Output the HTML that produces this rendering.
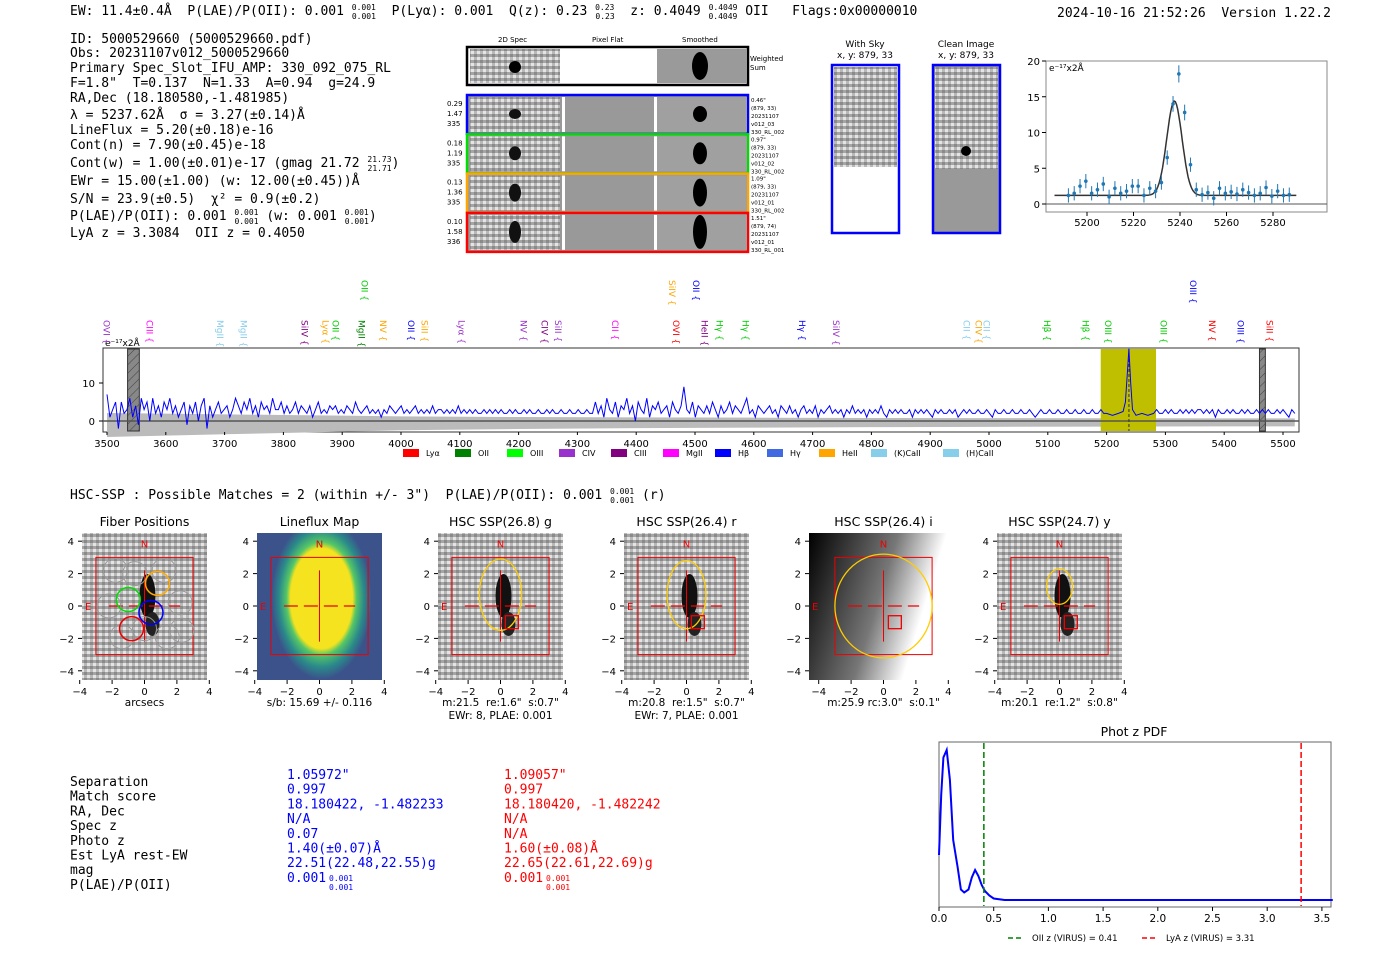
<!DOCTYPE html>
<html><head><meta charset="utf-8"><style>
body{margin:0;background:#fff;width:1400px;height:953px;overflow:hidden}
svg text{font-family:"DejaVu Sans","Liberation Sans",sans-serif;white-space:pre}
.m{font-family:"DejaVu Sans Mono","Liberation Mono",monospace}
</style></head><body>
<svg id="pg" width="1400" height="953" xmlns="http://www.w3.org/2000/svg" xml:space="preserve">
<defs>
<pattern id="noise" width="6" height="6" patternUnits="userSpaceOnUse"><rect width="6" height="6" fill="#b8b8b8"/><rect width="3" height="3" fill="#8a8a8a"/><rect x="3" y="3" width="3" height="3" fill="#e4e4e4"/><rect x="3" width="3" height="3" fill="#a5a5a5"/></pattern>
<pattern id="hatch" width="6" height="6" patternUnits="userSpaceOnUse" patternTransform="rotate(45)"><rect width="6" height="6" fill="#888"/><line x1="0" y1="0" x2="0" y2="6" stroke="#444"/></pattern>
<linearGradient id="igrad" x1="0" y1="0" x2="1" y2="0.3"><stop offset="0" stop-color="#000"/><stop offset="0.55" stop-color="#777"/><stop offset="0.85" stop-color="#fff"/></linearGradient>
<radialGradient id="lf" cx="0.52" cy="0.45" r="0.5" gradientTransform="translate(0.1,-0.05) scale(0.8,1.1)"><stop offset="0.62" stop-color="#f5e31f"/><stop offset="0.7" stop-color="#55c667"/><stop offset="0.85" stop-color="#2a8a8a"/><stop offset="1" stop-color="#3b528b"/></radialGradient>
</defs>

<g class="m" font-size="13">
<text x="70" y="15" class="m">EW: 11.4±0.4Å  P(LAE)/P(OII): 0.001 <tspan font-size="8" dy="-5">0.001</tspan><tspan font-size="8" dx="-24" dy="9">0.001</tspan><tspan dy="-4">  P(Lyα): 0.001  Q(z): 0.23 </tspan><tspan font-size="8" dy="-5">0.23</tspan><tspan font-size="8" dx="-19" dy="9">0.23</tspan><tspan dy="-4">  z: 0.4049 </tspan><tspan font-size="8" dy="-5">0.4049</tspan><tspan font-size="8" dx="-29" dy="9">0.4049</tspan><tspan dy="-4"> OII   Flags:0x00000010</tspan></text>
<text x="1057" y="17" class="m">2024-10-16 21:52:26  Version 1.22.2</text>
</g>

<g class="m" font-size="13">
<text x="70" y="43" class="m">ID: 5000529660 (5000529660.pdf)</text>
<text x="70" y="57" class="m">Obs: 20231107v012_5000529660</text>
<text x="70" y="72" class="m">Primary Spec_Slot_IFU_AMP: 330_092_075_RL</text>
<text x="70" y="87" class="m">F=1.8"  T=0.137  N=1.33  A=0.94  g=24.9</text>
<text x="70" y="102" class="m">RA,Dec (18.180580,-1.481985)</text>
<text x="70" y="119" class="m">λ = 5237.62Å  σ = 3.27(±0.14)Å</text>
<text x="70" y="134" class="m">LineFlux = 5.20(±0.18)e-16</text>
<text x="70" y="149" class="m">Cont(n) = 7.90(±0.45)e-18</text>
<text x="70" y="167" class="m">Cont(w) = 1.00(±0.01)e-17 (gmag 21.72 <tspan font-size="8" dy="-5">21.73</tspan><tspan font-size="8" dx="-24" dy="9">21.71</tspan><tspan dy="-4">)</tspan></text>
<text x="70" y="185" class="m">EWr = 15.00(±1.00) (w: 12.00(±0.45))Å</text>
<text x="70" y="203" class="m">S/N = 23.9(±0.5)  χ² = 0.9(±0.2)</text>
<text x="70" y="220" class="m">P(LAE)/P(OII): 0.001 <tspan font-size="8" dy="-5">0.001</tspan><tspan font-size="8" dx="-24" dy="9">0.001</tspan><tspan dy="-4"> (w: 0.001 </tspan><tspan font-size="8" dy="-5">0.001</tspan><tspan font-size="8" dx="-24" dy="9">0.001</tspan><tspan dy="-4">)</tspan></text>
<text x="70" y="237" class="m">LyA z = 3.3084  OII z = 0.4050</text>
</g>

<g font-size="7">
<text x="498" y="42">2D Spec</text>
<text x="592" y="42">Pixel Flat</text>
<text x="682" y="42">Smoothed</text>
<rect x="467" y="47" width="281" height="38" fill="#fff" stroke="#000" stroke-width="2.5"/>
<rect x="470" y="49" width="90" height="34" fill="url(#noise)"/>
<rect x="657" y="49" width="90" height="34" fill="#9a9a9a"/>
<circle cx="515" cy="67" r="6" fill="#000"/><ellipse cx="700" cy="66" rx="8" ry="14" fill="#000"/>
<text x="750" y="61">Weighted</text><text x="750" y="70">Sum</text>
<g id="rows"></g>
</g>

<g font-size="9">
<text x="865" y="47" text-anchor="middle">With Sky</text><text x="865" y="58" text-anchor="middle">x, y: 879, 33</text>
<rect x="832" y="65" width="67" height="168" fill="#fff" stroke="#00f" stroke-width="2.5"/>
<rect x="834" y="67" width="63" height="100" fill="url(#noise)"/>
<text x="966" y="47" text-anchor="middle">Clean Image</text><text x="966" y="58" text-anchor="middle">x, y: 879, 33</text>
<rect x="933" y="65" width="67" height="168" fill="#999" stroke="#00f" stroke-width="2.5"/>
<rect x="935" y="67" width="63" height="102" fill="url(#noise)"/>
<circle cx="966" cy="151" r="5" fill="#000"/>
</g>

<g id="zoomplot"></g>
<g id="spec"></g>

<text x="70" y="499" class="m" font-size="13">HSC-SSP : Possible Matches = 2 (within +/- 3")  P(LAE)/P(OII): 0.001 <tspan font-size="8" dy="-5">0.001</tspan><tspan font-size="8" dx="-24" dy="9">0.001</tspan><tspan dy="-4"> (r)</tspan></text>

<g id="thumbs"></g>

<g class="m" font-size="13">
<g id="tbl"></g>
</g>

<g id="pdf"></g>
</svg>
<script>
const NS="http://www.w3.org/2000/svg";
function mk(p,t,a,txt){const e=document.createElementNS(NS,t);for(const k in a)e.setAttribute(k,a[k]);if(txt!==undefined)e.textContent=txt;p.appendChild(e);return e;}

const rowColors=["#0000ff","#00dd00","#ffa500","#ff0000"];
const rowLeft=[["0.29","1.47","335"],["0.18","1.19","335"],["0.13","1.36","335"],["0.10","1.58","336"]];
const rowRight=[["0.46\"","(879, 33)","20231107","v012_03","330_RL_002"],["0.97\"","(879, 33)","20231107","v012_02","330_RL_002"],["1.09\"","(879, 33)","20231107","v012_01","330_RL_002"],["1.51\"","(879, 74)","20231107","v012_01","330_RL_001"]];
(function(){const g=document.getElementById('rows');
for(let i=0;i<4;i++){const y=95+i*39.3;
 const r=mk(g,'rect',{x:467,y:y,width:281,height:39,fill:'#999',stroke:rowColors[i],'stroke-width':2.5});
 
 
 mk(g,'rect',{x:470,y:y+2,width:90,height:35,fill:'url(#noise)'});
 mk(g,'rect',{x:562,y:y+2,width:3,height:35,fill:'#fff'});
 mk(g,'rect',{x:654,y:y+2,width:3,height:35,fill:'#fff'});
 mk(g,'rect',{x:657,y:y+2,width:90,height:35,fill:'#a0a0a0'});
 mk(g,'ellipse',{cx:515,cy:y+19,rx:6,ry:5+i*2,fill:'#111'});
 mk(g,'ellipse',{cx:700,cy:y+19,rx:7,ry:8+i*3,fill:'#000'});
 rowLeft[i].forEach((s,j)=>mk(g,'text',{x:447,y:y+11+j*10,'font-size':7},s));
 rowRight[i].forEach((s,j)=>mk(g,'text',{x:751,y:y+7+j*8,'font-size':5.5},s));
}})();

const zWave=[5192,5194.5,5197,5199.5,5202,5204.5,5207,5209.5,5212,5214.5,5217,5219.5,5222,5224.5,5227,5229.5,5232,5234.5,5237,5239.5,5242,5244.5,5247,5249.5,5252,5254.5,5257,5259.5,5262,5264.5,5267,5269.5,5272,5274.5,5277,5279.5,5282,5284.5,5287];
const zFlux=[1.2,1.5,2.5,3.2,1.5,2,2.8,1,2.2,1.5,1.8,2.5,2.5,1.2,2.2,1.8,3,6.5,14,18.2,12.8,5.5,2,1.3,1.6,0.8,2.2,1.5,1.7,1.4,2,1.6,1.2,1.5,2.3,1.1,1.8,1.2,1.3];
const zErr=[1,1,1,1,1,1,1,1,1,1,1,1,1,1,1,1,1,1,1.1,1.2,1.1,1,1,1,1,1,1,1,1,1,1,1,1,1,1,1,1,1,1];
const fitMu=5237.6, fitSig=3.27, fitAmp=13.2, fitCont=1.2;
const zTicks=[5200,5220,5240,5260,5280], zYT=[0,5,10,15,20];
(function(){const g=document.getElementById('zoomplot');
 const X=w=>1087+(w-5200)*2.325, Y=v=>204-v*7.15;
 mk(g,'rect',{x:1046,y:61,width:281,height:151,fill:'#fff',stroke:'#888'});
 mk(g,'line',{x1:1046,x2:1327,y1:Y(0),y2:Y(0),stroke:'#555'});
 zTicks.forEach(t=>{mk(g,'line',{x1:X(t),x2:X(t),y1:212,y2:216,stroke:'#000'});mk(g,'text',{x:X(t),y:226,'font-size':10,'text-anchor':'middle'},t);});
 zYT.forEach(t=>{mk(g,'line',{x1:1042,x2:1046,y1:Y(t),y2:Y(t),stroke:'#000'});mk(g,'text',{x:1040,y:Y(t)+4,'font-size':10,'text-anchor':'end'},t);});
 mk(g,'text',{x:1049,y:71,'font-size':9},'e⁻¹⁷x2Å');
 let d='';for(let w=5186;w<=5290;w+=0.5){const v=fitCont+fitAmp*Math.exp(-0.5*((w-fitMu)/fitSig)**2);d+=(d?'L':'M')+X(w).toFixed(1)+','+Y(v).toFixed(1);}
 const fl=mk(g,'path',{d:d,fill:'none',stroke:'#333','stroke-width':1.5});
 
 
 zWave.forEach((w,i)=>{mk(g,'line',{x1:X(w),x2:X(w),y1:Y(zFlux[i]-zErr[i]),y2:Y(zFlux[i]+zErr[i]),stroke:'#1f77b4'});
  const c=mk(g,'circle',{cx:X(w),cy:Y(zFlux[i]),r:1.8,fill:'#1f77b4'});
  
  });
})();

const specFluxA=[7,1,3,5,-2,5,2,3,6,1,4,-1,6,3,5,0,6,2,4,1,5,3,6,2,4,1,3,5,-1,4,2,5,0,4,6,-2,4,1,3,5,2,3,4,1,3,6,4,2,5,3,6,2,4,1,5,3,4,2,6,3,3,5,2,4,2,3,5,2,4,3,2,4,1,3,5,2,3,2,4,3,4,2,3,2,4,3,2,5,3,2,3,4,2,3,2,3,1,3,2,4,3,2,3,4,2,3,2,3,4,2,3,2,3,2,4,2,3,3,2,3,2,3,2,4,2,3,2,3,2,3,2,2,3,2,3,2,3,2,3,2,2,3,2,3,2,2,3,2,3,2,2,3,2,2,3,2,3,2,2,3,2,2,3,2,2,3,2,2,3,2,2,
5,2,4,1,6,3,2,5,1,4,3,6,2,4,0,5,3,2,6,1,4,3,5,2,3,4,1,5,3,2,4,9,3,2,5,1,4,3,2,4,2,5,3,1,4,2,3,5,2,4,3,2,4,6,2,3,1,4,3,2,3,4,2,3,1,4,3,2,4,2,3,1,3,4,2,3,2,4,1,3,2,3,4,2,3,2,3,1,3,2,4,2,3,2,3,1,3,2,3,2,4,2,1,3,2,3,2,3,2,2,3,1,3,2,3,2,3,2,1,3,2,3,2,2,3,2,3,1,2,3,2,3,2,2,3,2,2,3,2,1,3,2,2,3,2,2,3,2,2,3,2,2,3,2,1,2,3,2,2,3,2,2,3,2,2,3,2,2,3,2,2,3,2,2,3,2,2,3,2,2];
const specStartA=3500, specEndA=5200;
const specWaveA=specFluxA.map((_,i)=>specStartA+i*(specEndA-specStartA)/(specFluxA.length-1));
const specPeakWave=[5210,5220,5228,5232,5235,5238,5241,5244,5250,5260,5270];
const specPeakFlux=[1.5,2,2.5,5,12,19,10,3,1.5,2,1.5];
const specFluxB=[2,3,2,2,3,2,3,2,2,3,2,3,2,3,2,3,3,2,3,2,3,1,3,2,2,3,2,3,2,2,3,2,3,2,2,3,2,3,2,3,2,2,3,2,3,2,1,3,2];
const specStartB=5280, specEndB=5520;
const specWaveB=specFluxB.map((_,i)=>specStartB+i*(specEndB-specStartB)/(specFluxB.length-1));
const errWave=[3500,3600,3700,3800,3900,4000,4200,4400,4600,4800,5000,5200,5400,5520];
const errVal=[6,5.5,5,4.5,4,3.5,3,2.7,2.5,2.3,2.2,2.1,2,2];
const specTicks=[3500,3600,3700,3800,3900,4000,4100,4200,4300,4400,4500,4600,4700,4800,4900,5000,5100,5200,5300,5400,5500];
const specYT=[0,10];
const lineWaves=[3499,3572,3692,3732,3836,3872,3889,3933,3969,4017,4040,4103,4208,4244,4267,4364,4468,4516,4542,4586,4682,4740,4962,4982,4996,5099,5164,5202,5297,5379,5428,5477];
const lineNames=["OVI","CIII","MgII","MgII","SiIV","Lyα","OII","MgII","NV","OII","SiII","Lyα","NV","CIV","SiII","CII","OVI","HeII","Hγ","Hγ","Hγ","SiIV","CII","CIV","CII","Hβ","Hβ","OIII","OIII","NV","OIII","SiII"];
const lineCols=["#9932cc","#ff00ff","#87ceeb","#87ceeb","#800080","#ffa500","#00cc00","#008000","#ffa500","#0000ff","#ffa500","#9932cc","#9932cc","#800080","#9932cc","#ff00ff","#ff0000","#800080","#00cc00","#00cc00","#0000ff","#9932cc","#87ceeb","#ffa500","#87ceeb","#00cc00","#00cc00","#00cc00","#00cc00","#ff0000","#0000ff","#ff0000"];
const upWaves=[3938,4461,4502,5347], upNames=["OII","SiIV","OII","OIII"], upCols=["#00cc00","#ffa500","#0000ff","#0000ff"];
const legNames=["Lyα","OII","OIII","CIV","CIII","MgII","Hβ","Hγ","HeII","(K)CaII","(H)CaII"];
const legCols=["#ff0000","#008000","#00ff00","#9932cc","#800080","#ff00ff","#0000ff","#4169e1","#ffa500","#87ceeb","#87ceeb"];
(function(){const g=document.getElementById('spec');
 const X=w=>107+(w-3500)*0.588, Y=v=>421-v*3.8;
 mk(g,'rect',{x:103,y:348,width:1196,height:84,fill:'#fff',stroke:'#333'});
 let up='';errWave.forEach((w,i)=>{up+=(i?'L':'M')+X(w)+','+Y(errVal[i]*0.35);});
 for(let i=errWave.length-1;i>=0;i--)up+='L'+X(errWave[i])+','+Y(-errVal[i]*0.7);
 mk(g,'path',{d:up+'Z',fill:'#bbb'});
 mk(g,'rect',{x:X(5190),y:349,width:X(5284)-X(5190),height:82,fill:'#bfbf00'});
 mk(g,'rect',{x:X(3535),y:349,width:X(3555)-X(3535),height:82,fill:'url(#hatch)',stroke:'#333'});
 mk(g,'rect',{x:X(5460),y:349,width:X(5470)-X(5460),height:82,fill:'url(#hatch)',stroke:'#333'});
 mk(g,'line',{x1:103,x2:1299,y1:Y(0),y2:Y(0),stroke:'#555','stroke-width':1.5});
 mk(g,'line',{x1:X(5238),x2:X(5238),y1:349,y2:431,stroke:'#333','stroke-dasharray':'3,2'});
 const ws=[...specWaveA,...specPeakWave,...specWaveB],fs=[...specFluxA,...specPeakFlux,...specFluxB];
 let d='';ws.forEach((w,i)=>{d+=(i?'L':'M')+X(w).toFixed(1)+','+Y(fs[i]).toFixed(1);});
 const p=mk(g,'path',{d:d,fill:'none',stroke:'#0000ff','stroke-width':1});
 
 
 specTicks.forEach(t=>{mk(g,'line',{x1:X(t),x2:X(t),y1:432,y2:435,stroke:'#000'});mk(g,'text',{x:X(t),y:447,'font-size':10,'text-anchor':'middle'},t);});
 specYT.forEach(t=>{mk(g,'line',{x1:99,x2:103,y1:Y(t),y2:Y(t),stroke:'#000'});mk(g,'text',{x:95,y:Y(t)+4,'font-size':10,'text-anchor':'end'},t);});
 mk(g,'text',{x:105,y:346,'font-size':9},'e⁻¹⁷x2Å');
 lineWaves.forEach((w,i)=>{const t=mk(g,'text',{x:0,y:0,'font-size':9,fill:lineCols[i],transform:`translate(${X(w)-3},320) rotate(90)`},lineNames[i]+' {');
  
  });
 upWaves.forEach((w,i)=>{const t=mk(g,'text',{x:0,y:0,'font-size':9,fill:upCols[i],transform:`translate(${X(w)-3},280) rotate(90)`},upNames[i]+' {');
  
  });
 let lx=403;legNames.forEach((n,i)=>{const r=mk(g,'rect',{x:lx,y:449,width:16,height:8,fill:legCols[i]});
  
  
  mk(g,'text',{x:lx+23,y:456,'font-size':8},n);lx+=n.length>5?72:52;});
})();

const thTitles=["Fiber Positions","Lineflux Map","HSC SSP(26.8) g","HSC SSP(26.4) r","HSC SSP(26.4) i","HSC SSP(24.7) y"];
const thLeft=[82,257,438,624,809,997];
const thCap1=["arcsecs","s/b: 15.69 +/- 0.116","m:21.5  re:1.6\"  s:0.7\"","m:20.8  re:1.5\"  s:0.7\"","m:25.9 rc:3.0\"  s:0.1\"","m:20.1  re:1.2\"  s:0.8\""];
const thCap2=["","","EWr: 8, PLAE: 0.001","EWr: 7, PLAE: 0.001","",""];
const thTicks=[-4,-2,0,2,4];
(function(){const g=document.getElementById('thumbs');
 thLeft.forEach((L,i)=>{const W=i==4?149:125,cx=L+W/2,S=16.2,cy=606;
  mk(g,'text',{x:cx,y:526,'font-size':12.5,'text-anchor':'middle'},thTitles[i]);
  const fill=i==1?'url(#lf)':i==4?'url(#igrad)':'url(#noise)';
  const r=mk(g,'rect',{x:L,y:533,width:W,height:147,fill:fill});
  
  
  if(i!=1&&i!=4){mk(g,'ellipse',{cx:cx+3,cy:cy-10,rx:8,ry:22,fill:'#111'});mk(g,'ellipse',{cx:cx+8,cy:cy+18,rx:7,ry:12,fill:'#222'});}
  mk(g,'rect',{x:cx-3*S,y:cy-3*S,width:6*S,height:6*S,fill:'none',stroke:'#e00','stroke-width':1});
  mk(g,'line',{x1:cx-2.2*S,x2:cx+2.2*S,y1:cy,y2:cy,stroke:'#e00','stroke-width':1.2,'stroke-dasharray':'14,6'});
  mk(g,'line',{x1:cx,x2:cx,y1:cy-2.2*S,y2:cy+2.2*S,stroke:'#e00','stroke-width':1});
  mk(g,'text',{x:cx,y:cy-3.6*S,'font-size':10,fill:'#e00','text-anchor':'middle'},'N');
  mk(g,'text',{x:L+3,y:cy+4,'font-size':10,fill:'#e00'},'E');
  if(i==0){[[0,-1.4,'#999'],[-1.4,-1.9,'#999'],[1.4,-1.9,'#999'],[-2.2,0,'#999'],[2.2,0.2,'#999'],[-0.6,2,'#999'],[1.2,2.2,'#999'],[-1.8,2.2,'#999'],[2.3,-1.5,'#999'],[0.8,1.4,'#fa0'],[-1,0.4,'#0d0'],[0.4,-0.4,'#00f'],[-0.8,-1.4,'#e00']].forEach(c=>mk(g,'circle',{cx:cx+c[0]*S,cy:cy-c[1]*S,r:12,fill:'none',stroke:c[2],'stroke-width':c[2]=='#999'?1:1.5}));}
  if(i>=2){const ry=[0,0,2.2,2.1,3.2,1.1][i],rx=[0,0,1.3,1.2,3,0.8][i],oy=[0,0,0.7,0.7,0,1.2][i];
   mk(g,'ellipse',{cx:cx,cy:cy-oy*S,rx:rx*S,ry:ry*S,fill:'none',stroke:'#fc0','stroke-width':1.3});
   mk(g,'rect',{x:cx+0.3*S,y:cy+0.6*S,width:0.8*S,height:0.8*S,fill:'none',stroke:'#e00','stroke-width':1.3});}
  thTicks.forEach(t=>{const tx=cx+t*S,ty=cy-t*S,lb=t==0?'0':(t<0?'−'+(-t):String(t));
   mk(g,'line',{x1:tx,x2:tx,y1:680,y2:684,stroke:'#000'});mk(g,'text',{x:tx,y:695,'font-size':10,'text-anchor':'middle'},lb);
   mk(g,'line',{x1:L-4,x2:L,y1:ty,y2:ty,stroke:'#000'});mk(g,'text',{x:L-8,y:ty+4,'font-size':10,'text-anchor':'end'},lb);});
  mk(g,'text',{x:cx,y:706,'font-size':10.5,'text-anchor':'middle'},thCap1[i]);
  if(thCap2[i])mk(g,'text',{x:cx,y:719,'font-size':10.5,'text-anchor':'middle'},thCap2[i]);
 });
})();

const tLabels=["Separation","Match score","RA, Dec","Spec z","Photo z","Est LyA rest-EW","mag","P(LAE)/P(OII)"];
const tBlue=["1.05972\"","0.997","18.180422, -1.482233","N/A","0.07","1.40(±0.07)Å","22.51(22.48,22.55)g","0.001"];
const tRed=["1.09057\"","0.997","18.180420, -1.482242","N/A","N/A","1.60(±0.08)Å","22.65(22.61,22.69)g","0.001"];
(function(){const g=document.getElementById('tbl');
 tLabels.forEach((l,i)=>{const y=786+i*14.7;
  mk(g,'text',{x:70,y:y,class:'m'},l);
  mk(g,'text',{x:287,y:y-7,class:'m',fill:'#0000ff'},tBlue[i]);
  mk(g,'text',{x:504,y:y-7,class:'m',fill:'#ff0000'},tRed[i]);});
 [[287,'#0000ff'],[504,'#ff0000']].forEach(([x,c])=>{mk(g,'text',{x:x+42,y:881,'font-size':8,fill:c,class:'m'},'0.001');mk(g,'text',{x:x+42,y:890,'font-size':8,fill:c,class:'m'},'0.001');});
})();

const pdfZ=[0,0.02,0.04,0.07,0.1,0.13,0.17,0.2,0.23,0.27,0.3,0.33,0.36,0.39,0.42,0.46,0.5,0.6,0.8,1.5,2.5,3.6];
const pdfP=[0.3,0.7,0.95,1.0,0.8,0.4,0.22,0.07,0.05,0.07,0.15,0.2,0.16,0.1,0.06,0.03,0.01,0.0,0.0,0.0,0.0,0.0];
const pdfTicks=["0.0","0.5","1.0","1.5","2.0","2.5","3.0","3.5"];
const zOII=0.41, zLyA=3.31;
(function(){const g=document.getElementById('pdf');
 const X=z=>939+z*109.4, Y=p=>900-p*150;
 mk(g,'text',{x:1134,y:736,'font-size':12.5,'text-anchor':'middle'},'Phot z PDF');
 mk(g,'rect',{x:939,y:742,width:392,height:165,fill:'#fff',stroke:'#666'});
 let d='';pdfZ.forEach((z,i)=>{d+=(i?'L':'M')+X(z).toFixed(1)+','+Y(pdfP[i]).toFixed(1);});
 const p=mk(g,'path',{d:d,fill:'none',stroke:'#0000ff','stroke-width':2});
 
 
 mk(g,'line',{x1:X(zOII),x2:X(zOII),y1:743,y2:906,stroke:'#008000','stroke-width':1.5,'stroke-dasharray':'6,3'});
 mk(g,'line',{x1:X(zLyA),x2:X(zLyA),y1:743,y2:906,stroke:'#ff0000','stroke-width':1.5,'stroke-dasharray':'6,3'});
 pdfTicks.forEach(t=>{const x=X(+t);mk(g,'line',{x1:x,x2:x,y1:907,y2:911,stroke:'#000'});mk(g,'text',{x:x,y:922,'font-size':10.5,'text-anchor':'middle'},t);});
 mk(g,'line',{x1:1008,x2:1024,y1:938,y2:938,stroke:'#008000','stroke-width':1.5,'stroke-dasharray':'5,3'});
 mk(g,'text',{x:1032,y:941,'font-size':8.5},'OII z (VIRUS) = '+zOII);
 mk(g,'line',{x1:1142,x2:1158,y1:938,y2:938,stroke:'#ff0000','stroke-width':1.5,'stroke-dasharray':'5,3'});
 mk(g,'text',{x:1166,y:941,'font-size':8.5},'LyA z (VIRUS) = '+zLyA);
})();
</script>
</body></html>
